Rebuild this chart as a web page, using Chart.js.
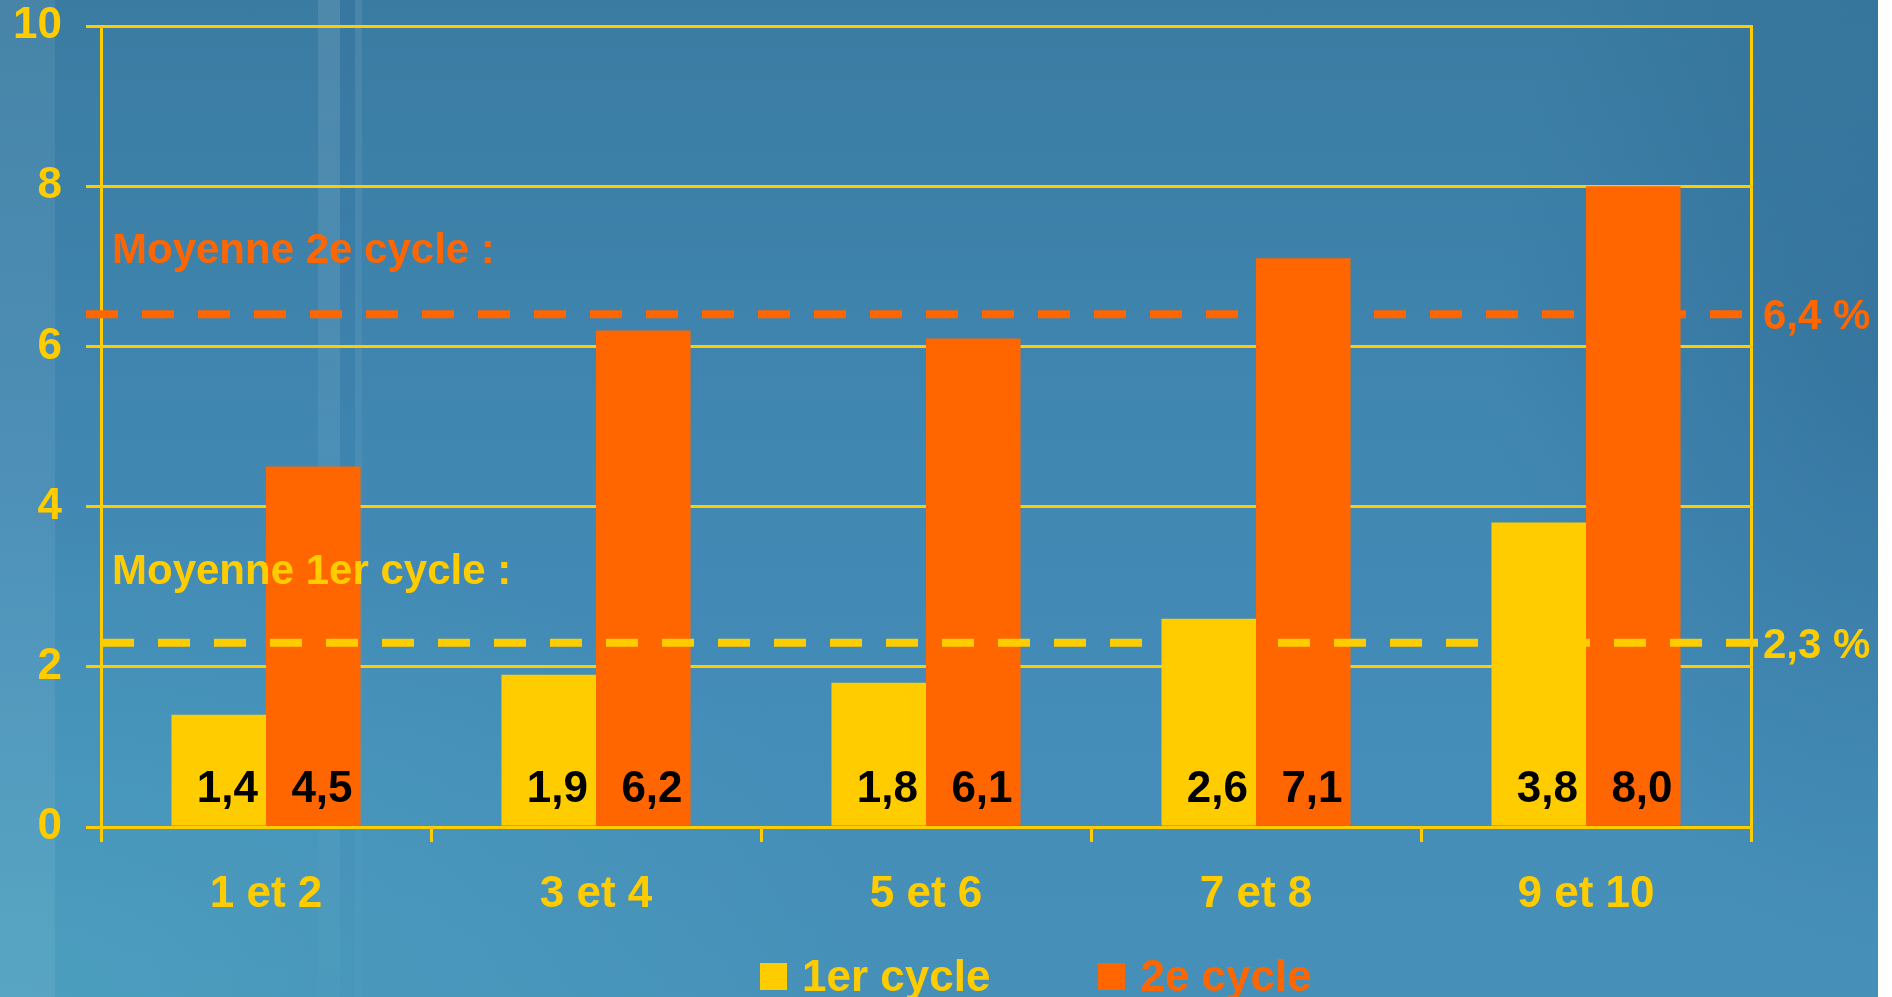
<!DOCTYPE html>
<html lang="fr">
<head>
<meta charset="utf-8">
<title>Redoublement par cycle</title>
<script src="https://cdn.jsdelivr.net/npm/chart.js@4/dist/chart.umd.min.js"></script>
<style>
  html, body { margin: 0; padding: 0; width: 1892px; height: 997px; overflow: hidden; }
  body {
    position: relative;
    background:
      radial-gradient(ellipse 900px 500px at 0% 100%, rgba(80, 170, 195, 0.55), rgba(80, 170, 195, 0) 100%),
      radial-gradient(ellipse 400px 600px at 100% 35%, rgba(30, 80, 120, 0.30), rgba(30, 80, 120, 0) 100%),
      linear-gradient(180deg, #3a7ba1 0%, #4087b2 45%, #448db8 75%, #4690b8 100%);
  }
  .strip { position: absolute; top: 0; bottom: 0; }
  #leftStrip { left: 0; width: 55px; background: rgba(255, 255, 255, 0.07); }
  #streak {
    left: 318px; width: 50px;
    background: linear-gradient(90deg, rgba(255,255,255,0.10) 0 22px, rgba(40,90,150,0.10) 22px 37px, rgba(255,255,255,0.08) 37px 44px, transparent 44px);
    -webkit-mask-image: linear-gradient(180deg, #000 0%, rgba(0,0,0,0.6) 50%, rgba(0,0,0,0.15) 100%);
  }
  #rightEdge { right: 0; width: 14px; background: #fff; }
  #wrap { position: absolute; left: 0; top: 0; width: 1892px; height: 997px; }
  #legend {
    position: absolute; left: 760px; top: 954px;
    display: flex;
    font: bold 44px/44px 'Liberation Sans', Arial, sans-serif;
    white-space: nowrap;
  }
  #legend .item { display: flex; align-items: center; margin-right: 108px; }
  #legend .box { width: 27px; height: 27px; margin-right: 15px; }
</style>
</head>
<body>
<div class="strip" id="leftStrip"></div>
<div class="strip" id="streak"></div>
<div id="wrap"><canvas id="chart" width="1892" height="997"></canvas></div>
<div id="legend"></div>
<div class="strip" id="rightEdge"></div>
<script>
const categories = ["1 et 2", "3 et 4", "5 et 6", "7 et 8", "9 et 10"];
const seriesNames = ["1er cycle", "2e cycle"];
const premierCycle = [1.4, 1.9, 1.8, 2.6, 3.8];
const deuxiemeCycle = [4.5, 6.2, 6.1, 7.1, 8.0];
const moyennes = [2.3, 6.4];
const moyenneTitres = ["Moyenne 1er cycle :", "Moyenne 2e cycle :"];
const yTicks = [0, 2, 4, 6, 8, 10];

const JAUNE = "#FFCC00";
const ORANGE = "#FF6600";
const serieColors = [JAUNE, ORANGE];
const FONT = "'Liberation Sans', Arial, sans-serif";

Chart.defaults.font.family = FONT;
Chart.defaults.font.size = 44;
Chart.defaults.font.weight = "bold";

const fmt = v => v.toFixed(1).replace(".", ",");

// black values at the foot of each bar
const valueLabels = {
  id: "valueLabels",
  afterDatasetsDraw(chart) {
    const { ctx, scales: { y } } = chart;
    const base = y.getPixelForValue(0);
    ctx.save();
    ctx.font = "bold 44px " + FONT;
    ctx.fillStyle = "#000";
    ctx.textAlign = "right";
    ctx.textBaseline = "alphabetic";
    chart.data.datasets.forEach((ds, di) => {
      chart.getDatasetMeta(di).data.forEach((bar, i) => {
        ctx.fillText(fmt(ds.data[i]), bar.x + bar.width / 2 - 8, base - 25);
      });
    });
    ctx.restore();
  }
};

// dashed mean lines with their captions
const lineStyles = [
  { dashOffset: 40, captionDy: -59 },
  { dashOffset: 0, captionDy: -51 }
];
const averageLines = {
  id: "averageLines",
  afterDatasetsDraw(chart) {
    const { ctx, chartArea, scales: { y } } = chart;
    ctx.save();
    moyennes.forEach((m, i) => {
      const py = y.getPixelForValue(m);
      const st = lineStyles[i];
      ctx.strokeStyle = serieColors[i];
      ctx.lineWidth = 8;
      ctx.setLineDash([32, 24]);
      ctx.lineDashOffset = st.dashOffset;
      ctx.beginPath();
      ctx.moveTo(chartArea.left - 15, py);
      ctx.lineTo(chartArea.right + 7, py);
      ctx.stroke();

      ctx.font = "bold 42px " + FONT;
      ctx.fillStyle = serieColors[i];
      ctx.textBaseline = "alphabetic";
      ctx.textAlign = "left";
      ctx.fillText(moyenneTitres[i], chartArea.left + 11, py + st.captionDy);
      ctx.fillText(fmt(m) + " %", chartArea.right + 12, py + 15);
    });
    ctx.restore();
  }
};

const chart = new Chart(document.getElementById("chart"), {
  type: "bar",
  data: {
    labels: categories,
    datasets: [
      { label: seriesNames[0], data: premierCycle, backgroundColor: JAUNE, borderWidth: 0 },
      { label: seriesNames[1], data: deuxiemeCycle, backgroundColor: ORANGE, borderWidth: 0 }
    ]
  },
  options: {
    responsive: false,
    animation: false,
    events: [],
    categoryPercentage: 0.573,
    barPercentage: 1,
    layout: { padding: 0 },
    scales: {
      x: {
        grid: { drawOnChartArea: false, drawTicks: true, tickLength: 15, tickColor: JAUNE, lineWidth: 3 },
        border: { display: true, color: JAUNE, width: 3 },
        ticks: { color: JAUNE, padding: 26, maxRotation: 0 },
        afterFit(scale) { scale.height = 170; }
      },
      y: {
        min: 0,
        max: 10,
        afterBuildTicks(scale) { scale.ticks = yTicks.map(v => ({ value: v })); },
        grid: { color: JAUNE, lineWidth: 3, drawTicks: true, tickLength: 15, tickColor: JAUNE },
        border: { display: true, color: JAUNE, width: 3 },
        ticks: { color: JAUNE, padding: 24 },
        afterFit(scale) {
          scale.width = 101;
          scale.paddingTop = 26;
          scale.paddingBottom = 0;
        }
      },
      y2: {
        position: "right",
        min: 0,
        max: 10,
        grid: { display: false },
        border: { display: true, color: JAUNE, width: 3 },
        ticks: { display: false },
        afterFit(scale) { scale.width = 141; }
      }
    },
    plugins: {
      tooltip: { enabled: false },
      legend: { display: false }
    }
  },
  plugins: [valueLabels, averageLines]
});

// legend built from the datasets
const legendEl = document.getElementById("legend");
chart.data.datasets.forEach(ds => {
  const item = document.createElement("div");
  item.className = "item";
  item.style.color = ds.backgroundColor;
  const box = document.createElement("span");
  box.className = "box";
  box.style.background = ds.backgroundColor;
  item.append(box, document.createTextNode(ds.label));
  legendEl.append(item);
});
</script>
</body>
</html>
